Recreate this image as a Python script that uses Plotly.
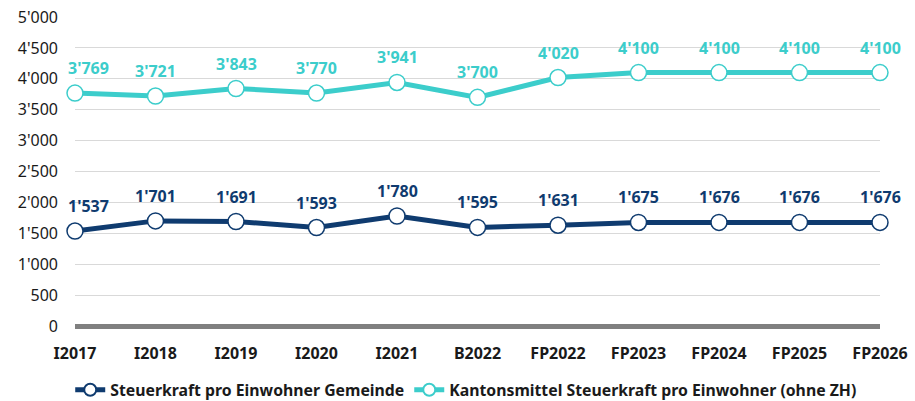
import plotly.graph_objects as go

categories = ["I2017", "I2018", "I2019", "I2020", "I2021", "B2022", "FP2022", "FP2023", "FP2024", "FP2025", "FP2026"]
gemeinde = [1537, 1701, 1691, 1593, 1780, 1595, 1631, 1675, 1676, 1676, 1676]
kanton = [3769, 3721, 3843, 3770, 3941, 3700, 4020, 4100, 4100, 4100, 4100]
y_ticks = [0, 500, 1000, 1500, 2000, 2500, 3000, 3500, 4000, 4500, 5000]

NAVY = "#0F3B6F"
CYAN = "#3CCDCB"
FONT = "Noto Sans"

def fmt(v):
    return f"{v:,}".replace(",", "'")

xs = list(range(len(categories)))

fig = go.Figure()
for name, vals, col in [
    ("Steuerkraft pro Einwohner Gemeinde", gemeinde, NAVY),
    ("Kantonsmittel Steuerkraft pro Einwohner (ohne ZH)", kanton, CYAN),
]:
    fig.add_trace(go.Scatter(
        x=xs, y=vals, mode="lines+markers", name=name,
        line=dict(color=col, width=5),
        marker=dict(size=16, color="white", line=dict(color=col, width=1.5)),
        cliponaxis=False,
    ))
    for i, v in enumerate(vals):
        fig.add_annotation(
            x=i, y=v, text=fmt(v), showarrow=False,
            yshift=25, xshift=(13 if i == 0 else 0),
            font=dict(family=FONT, size=16, color=col, weight="bold"),
        )

fig.update_layout(
    width=915, height=401,
    margin=dict(l=75, r=35, t=17, b=75, autoexpand=False),
    plot_bgcolor="white", paper_bgcolor="white",
    separators=".'",
    font=dict(family=FONT, color="#1a1a1a"),
    showlegend=True,
    legend=dict(orientation="h", x=0.486, xanchor="center", y=-0.207, yanchor="middle",
                itemsizing="constant",
                font=dict(family=FONT, size=15.8, color="#1a1a1a", weight="bold")),
    xaxis=dict(range=[0, 10], tickvals=xs, ticktext=categories, showgrid=False,
               zeroline=False, showline=False, ticks="", ticklabelstandoff=16,
               tickfont=dict(family=FONT, size=16, color="#1a1a1a", weight="bold")),
    yaxis=dict(range=[0, 5000], tickvals=y_ticks, tickformat=",d", showgrid=True,
               gridcolor="#d9d9d9", gridwidth=1, zeroline=True, zerolinecolor="#808080",
               zerolinewidth=5, showline=False, ticks="", ticklabelstandoff=16,
               tickfont=dict(family=FONT, size=16, color="#1a1a1a")),
)

fig.write_html("out.html", config={"displayModeBar": False},
               post_script="document.body.style.margin='0';document.body.style.overflow='hidden';")
